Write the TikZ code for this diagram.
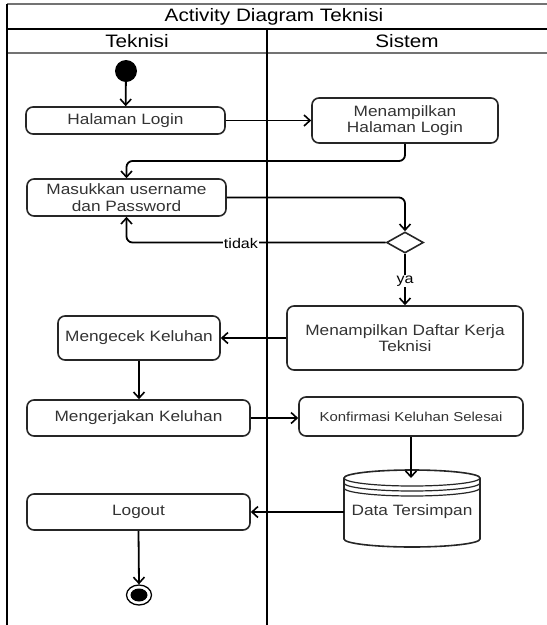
\documentclass[tikz,border=0pt]{standalone}
\usepackage{fontspec}
\setmainfont{Liberation Sans}[FakeStretch=1.15]
\usetikzlibrary{arrows.meta,shapes.geometric}
\definecolor{boxline}{HTML}{262626}
\definecolor{boxtext}{HTML}{333333}
\tikzset{
  act/.style={draw=boxline, line width=1.6pt, rounded corners=7pt, align=center,
    text=boxtext, font=\fontsize{15}{16.5}\selectfont, inner sep=0pt},
  flow/.style={draw=black, line width=1.8pt, rounded corners=6pt,
    -{Straight Barb[length=6pt,width=11pt,line width=1.6pt]}},
  lbl/.style={fill=white, inner sep=1pt, font=\fontsize{14}{16}\selectfont},
  frame/.style={line width=2pt, draw=black},
  framegrey/.style={line width=2pt, draw=black!55},
}
\begin{document}
\begin{tikzpicture}[x=1pt,y=-1pt]
\useasboundingbox (0,0) rectangle (547,625);
\begin{scope}
\clip (0,0) rectangle (547,625);
% frame
\draw[framegrey] (7,4) -- (560,4);
\draw[frame] (7,29) -- (560,29);
\draw[framegrey] (7,53) -- (560,53);
\draw[frame] (7,4) -- (7,630);
\draw[frame] (267,29) -- (267,630);
\end{scope}
\node[font=\fontsize{18}{20}\selectfont] (title) at (274,16.5) {Activity Diagram Teknisi};
\node[font=\fontsize{18}{20}\selectfont] (lane1) at (137,41) {Teknisi};
\node[font=\fontsize{18}{20}\selectfont] (lane2) at (407,41) {Sistem};

% nodes
\node[circle, fill=black, minimum size=22pt, inner sep=0pt] (start) at (126,71) {};
\node[act, minimum width=199pt, minimum height=27pt] (hl) at (125.5,120.5) {Halaman Login};
\node[act, minimum width=186pt, minimum height=45pt] (mhl) at (405,120.5) {Menampilkan\\Halaman Login};
\node[act, minimum width=199pt, minimum height=37pt] (mu) at (126.5,197.5) {Masukkan username\\dan Password};
\node[diamond, draw=boxline, line width=1.6pt, minimum width=37pt, minimum height=21pt, inner sep=0pt, aspect=1.75] (dec) at (405,242.5) {};
\node[act, minimum width=236pt, minimum height=64pt] (daftar) at (405,338) {Menampilkan Daftar Kerja\\Teknisi};
\node[act, minimum width=162pt, minimum height=44pt] (cek) at (139,338) {Mengecek Keluhan};
\node[act, minimum width=223pt, minimum height=36pt] (kerja) at (138.5,418) {Mengerjakan Keluhan};
\node[act, minimum width=224pt, minimum height=39pt, font=\fontsize{13}{15}\selectfont] (konf) at (411,416.5) {Konfirmasi Keluhan Selesai};
\node[act, minimum width=223pt, minimum height=36pt] (logout) at (138.5,512) {Logout};

% data store (cylinder)
\draw[draw=boxline, line width=1.6pt, fill=white]
  (344,478) arc[start angle=180, end angle=0, x radius=68pt, y radius=8pt]
  -- (480,539) arc[start angle=360, end angle=180, x radius=68pt, y radius=8pt]
  -- cycle;
\draw[draw=boxline, line width=1.2pt]
  (344,478) arc[start angle=180, end angle=360, x radius=68pt, y radius=8pt];
\draw[draw=boxline, line width=1.2pt]
  (344,483) arc[start angle=180, end angle=360, x radius=68pt, y radius=8pt];
\draw[draw=boxline, line width=1.2pt]
  (344,488) arc[start angle=180, end angle=360, x radius=68pt, y radius=8pt];
\node[font=\fontsize{15}{17}\selectfont, text=boxtext, minimum width=136pt, minimum height=60pt, inner sep=0pt] (data) at (412,512) {Data Tersimpan};
\coordinate (datatop) at (411,478);

% end node
\node[ellipse, draw=black, line width=1.3pt, minimum width=25pt, minimum height=20pt, inner sep=0pt] (endo) at (139,595) {};
\node[ellipse, fill=black, minimum width=17pt, minimum height=13pt, inner sep=0pt] (endi) at (139,595) {};

% connectors
\draw[flow] (start) -- (hl);
\draw[flow] (hl.east) -- (hl.east -| mhl.west);
\coordinate (c1) at (405,161);
\draw[flow] (mhl.south) -- (c1) -- (c1 -| mu.north) -- (mu.north);
\draw[flow] (mu.east) -- (mu.east -| dec.north) -- (dec.north);
\draw[flow] (dec.west) -- (dec.west -| mu.south) -- (mu.south);
\node[lbl] (tidak) at (241,243) {tidak};
\draw[flow] (dec.south) -- (daftar.north);
\node[lbl] (ya) at (405,281) {ya};
\draw[flow] (daftar.west |- cek.east) -- (cek.east);
\draw[flow] (cek.south) -- (cek.south |- kerja.north);
\draw[flow] (kerja.east) -- (kerja.east -| konf.west);
\draw[flow] (konf.south -| datatop) -- (datatop);
\draw[flow] (data.west |- logout.east) -- (logout.east);
\draw[flow] (logout.south) -- (endo.north);
\end{tikzpicture}
\end{document}
